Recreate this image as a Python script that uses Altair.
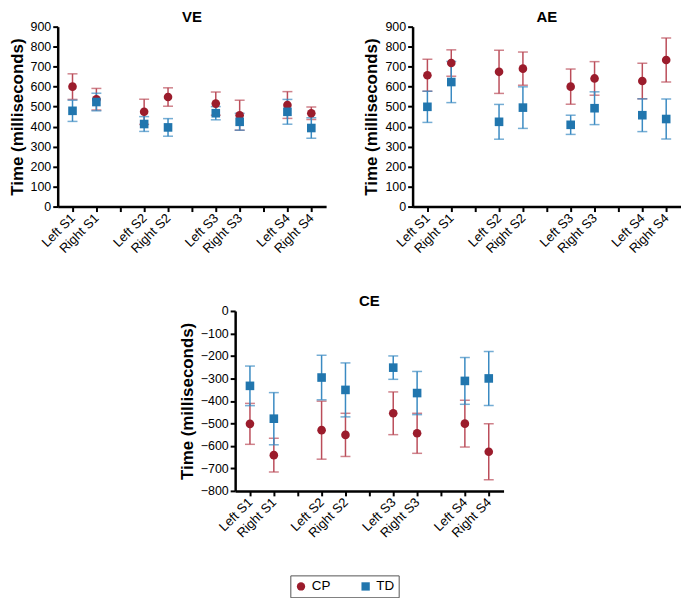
import altair as alt
import pandas as pd

cats = ["Left S1", "Right S1", " ", "Left S2", "Right S2", "  ",
        "Left S3", "Right S3", "   ", "Left S4", "Right S4"]
conditions = ["Left S1", "Right S1", "Left S2", "Right S2",
              "Left S3", "Right S3", "Left S4", "Right S4"]
groups = ["CP", "TD"]

ve_cp_mean = [600, 537, 474, 548, 515, 457, 508, 467]
ve_cp_sd = [64, 54, 63, 46, 58, 75, 67, 31]
ve_td_mean = [479, 523, 413, 396, 467, 424, 474, 393]
ve_td_sd = [53, 44, 37, 44, 33, 42, 62, 51]

ae_cp_mean = [657, 718, 674, 690, 600, 641, 628, 733]
ae_cp_sd = [80, 66, 108, 83, 88, 84, 89, 110]
ae_td_mean = [499, 623, 424, 495, 409, 492, 457, 438]
ae_td_sd = [78, 103, 87, 104, 48, 82, 82, 100]

ce_cp_mean = [-502, -641, -530, -551, -455, -544, -501, -626]
ce_cp_sd = [91, 75, 129, 96, 95, 89, 104, 124]
ce_td_mean = [-333, -479, -296, -351, -252, -365, -311, -300]
ce_td_sd = [88, 116, 99, 120, 52, 96, 104, 120]

RED = "#9b1c2c"
BLUE = "#2176ae"
RED_ERR = "#bb4d5a"
BLUE_ERR = "#3a8ac2"
FONT = "Liberation Sans"

W, H = 270, 181


def make_df(cp_m, cp_s, td_m, td_s):
    rows = []
    for g, ms, ss in (("CP", cp_m, cp_s), ("TD", td_m, td_s)):
        for c, m, s in zip(conditions, ms, ss):
            rows.append({"Condition": c, "Group": g, "Mean": m,
                         "Lo": m - s, "Hi": m + s})
    return pd.DataFrame(rows)


def panel(title, cp_m, cp_s, td_m, td_s, domain, step):
    df = make_df(cp_m, cp_s, td_m, td_s)
    xenc = alt.X("Condition:N",
                 scale=alt.Scale(type="point", domain=cats, padding=0.62),
                 axis=alt.Axis(title=None, labelAngle=-45, labelAlign="right",
                               labelBaseline="middle", labelPadding=4,
                               labelFontSize=13))
    yscale = alt.Scale(domain=domain, nice=False, zero=False)
    yaxis = alt.Axis(title="Time (milliseconds)",
                     values=list(range(domain[0], domain[1] + 1, step)),
                     format="d")
    base = alt.Chart(df).encode(x=xenc)
    layers = []
    for g, col in (("CP", RED_ERR), ("TD", BLUE_ERR)):
        sub = base.transform_filter(alt.datum.Group == g)
        layers.append(sub.mark_rule(strokeWidth=1.5, color=col).encode(
            y=alt.Y("Lo:Q", scale=yscale, axis=yaxis), y2="Hi:Q"))
        layers.append(sub.mark_tick(size=10, thickness=1.5, color=col).encode(
            y=alt.Y("Lo:Q", scale=yscale, axis=yaxis)))
        layers.append(sub.mark_tick(size=10, thickness=1.5, color=col).encode(
            y=alt.Y("Hi:Q", scale=yscale, axis=yaxis)))
    pts = base.mark_point(filled=True, size=75, opacity=1).encode(
        y=alt.Y("Mean:Q", scale=yscale, axis=yaxis),
        color=alt.Color("Group:N", scale=alt.Scale(domain=groups, range=[RED, BLUE]),
                        legend=alt.Legend(title=None, orient="none", direction="horizontal",
                                          legendX=234, legendY=552,
                                          strokeColor="#555555", padding=4,
                                          columnPadding=28, symbolSize=70,
                                          labelFontSize=13.5, labelFont=FONT,
                                          labelColor="black")),
        shape=alt.Shape("Group:N", scale=alt.Scale(domain=groups, range=["circle", "square"]),
                        legend=None),
    )
    layers.append(pts)
    return alt.layer(*layers).properties(
        width=W, height=H,
        title=alt.TitleParams(title, fontSize=15, fontWeight="bold", font=FONT,
                              color="black", anchor="middle", offset=-4, frame="group"))


ve = panel("VE", ve_cp_mean, ve_cp_sd, ve_td_mean, ve_td_sd, [0, 900], 100)
ae = panel("AE", ae_cp_mean, ae_cp_sd, ae_td_mean, ae_td_sd, [0, 900], 100)
ce = panel("CE", ce_cp_mean, ce_cp_sd, ce_td_mean, ce_td_sd, [-800, 0], 100)

top = alt.hconcat(ve, ae, spacing=37)
chart = alt.vconcat(top, ce, spacing=38, center=True).properties(
    padding=0
).configure_view(stroke=None).configure_axis(
    domainColor="black", domainWidth=2.5, tickColor="black", tickWidth=2,
    tickSize=5, labelColor="black", labelFont=FONT, labelFontSize=12.5,
    titleFont=FONT, titleFontSize=17, titleFontWeight="bold", titleColor="black",
    grid=False
)

chart.save("out.html", embed_options={"renderer": "svg", "actions": False})
